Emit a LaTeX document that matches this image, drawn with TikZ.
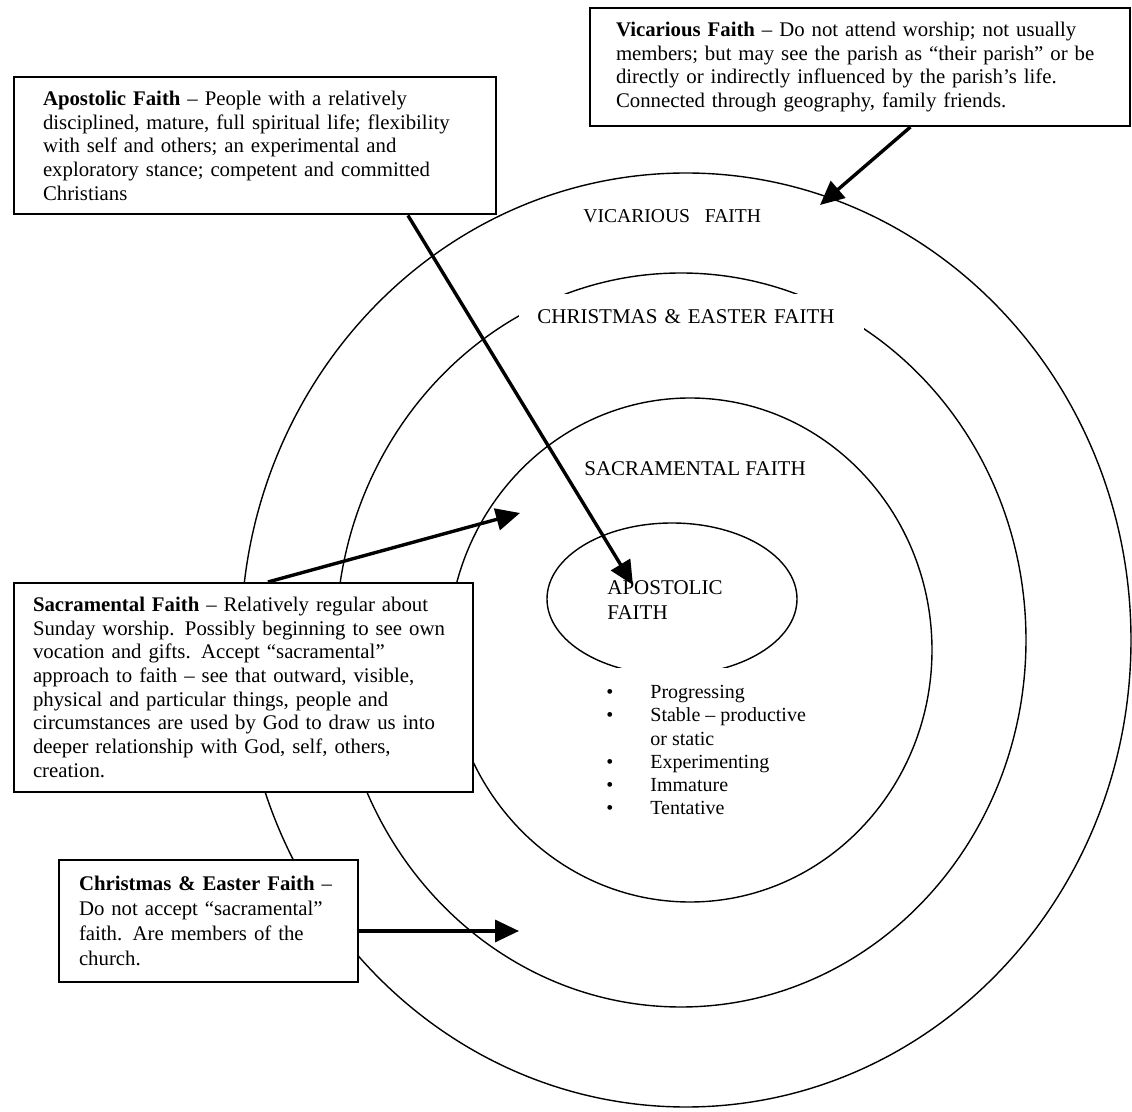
\documentclass[tikz,border=0pt]{standalone}
\usepackage{fontspec}
\setmainfont{Liberation Serif}
\usepackage{tikz}
\usetikzlibrary{positioning}
\usetikzlibrary{arrows.meta,shapes}
\usetikzlibrary{calc}
\tikzset{nd/.style={rectangle,draw,line width=1pt,fill=white,align=left,anchor=north west,inner ysep=7pt,font=\fontsize{10.4}{11.85}\selectfont}}
\tikzset{ring/.style={line width=0.7pt}}
\tikzset{lbl/.style={anchor=north west,inner sep=0pt,align=left,font=\fontsize{10.5}{12.5}\selectfont}}
\tikzset{arr/.style={line width=1.7pt,-{Triangle[length=12pt,width=11pt]}}}

\begin{document}
\begin{tikzpicture}[x=0.5pt,y=-0.5pt]
  \useasboundingbox (0,0) rectangle (1132,1112);

  % the four rings, outside in
  \draw[ring] (686,640) ellipse [x radius=445, y radius=467];
  \draw[ring] (681,640) ellipse [x radius=345, y radius=367];
  \draw[ring] (690,650) ellipse [x radius=242, y radius=252];
  \draw[ring] (672,599) ellipse [x radius=125, y radius=76];

  % ring labels
  \node[lbl,font=\fontsize{9.8}{12}\selectfont] (vicl) at (583,209) {VICARIOUS\ \ \ FAITH};
  \node[lbl,anchor=west,fill=white,text width=172.5pt,minimum height=22.5pt] (chrl) at (519,317)
       {\hspace*{9pt}CHRISTMAS \& EASTER FAITH};
  \node[lbl] (sacl) at (584,461) {SACRAMENTAL FAITH};
  \node[lbl] (apol) at (607,580) {APOSTOLIC\\FAITH};

  \node[anchor=north west,fill=white,inner xsep=0pt,inner ysep=7pt,font=\fontsize{10}{11.6}\selectfont] (stages) at (600,668) {%
    \begin{tabular}{@{\hspace{3pt}}l@{\hspace{18.5pt}}l@{}}
      \textbullet & Progressing\\
      \textbullet & Stable -- productive\\
                  & or static\\
      \textbullet & Experimenting\\
      \textbullet & Immature\\
      \textbullet & Tentative
    \end{tabular}};

  % description boxes
  \node[nd,inner xsep=13pt,text width=244pt] (vicbox) at (589,7)
       {\textbf{Vicarious Faith} -- Do not attend worship; not usually\\
        members; but may see the parish as ``their parish'' or be\\
        directly or indirectly influenced by the parish's life.\\
        Connected through geography, family friends.};
  \node[nd,inner xsep=14.5pt,text width=212pt] (apobox) at (13,76)
       {\textbf{Apostolic Faith} -- People with a relatively\\
        disciplined, mature, full spiritual life; flexibility\\
        with self and others; an experimental and\\
        exploratory stance; competent and committed\\
        Christians};
  \node[nd,inner xsep=9.5pt,text width=210.5pt] (sacbox) at (13,582)
       {\textbf{Sacramental Faith} -- Relatively regular about\\
        Sunday worship. Possibly beginning to see own\\
        vocation and gifts. Accept ``sacramental''\\
        approach to faith -- see that outward, visible,\\
        physical and particular things, people and\\
        circumstances are used by God to draw us into\\
        deeper relationship with God, self, others,\\
        creation.};
  \node[nd,inner xsep=10pt,inner ysep=8pt,text width=129.5pt,font=\fontsize{10.4}{12.5}\selectfont] (chrbox) at (58,859)
       {\textbf{Christmas \& Easter Faith} --\\
        Do not accept ``sacramental''\\
        faith. Are members of the\\
        church.};

  % arrows into the rings
  \coordinate (vicTip) at (820,205);
  \coordinate (apoTip) at (633,585);
  \coordinate (sacTip) at (520,513);
  \coordinate (chrTip) at (519,931);
  \draw[arr] ($(vicbox.south west)!0.593!(vicbox.south east)$) -- (vicTip);
  \draw[arr] ($(apobox.south west)!0.816!(apobox.south east)$) -- (apoTip);
  \draw[arr] ($(sacbox.north west)!0.553!(sacbox.north east)$) -- (sacTip);
  \draw[arr] (chrbox.east |- chrTip) -- (chrTip);

\end{tikzpicture}
\end{document}
